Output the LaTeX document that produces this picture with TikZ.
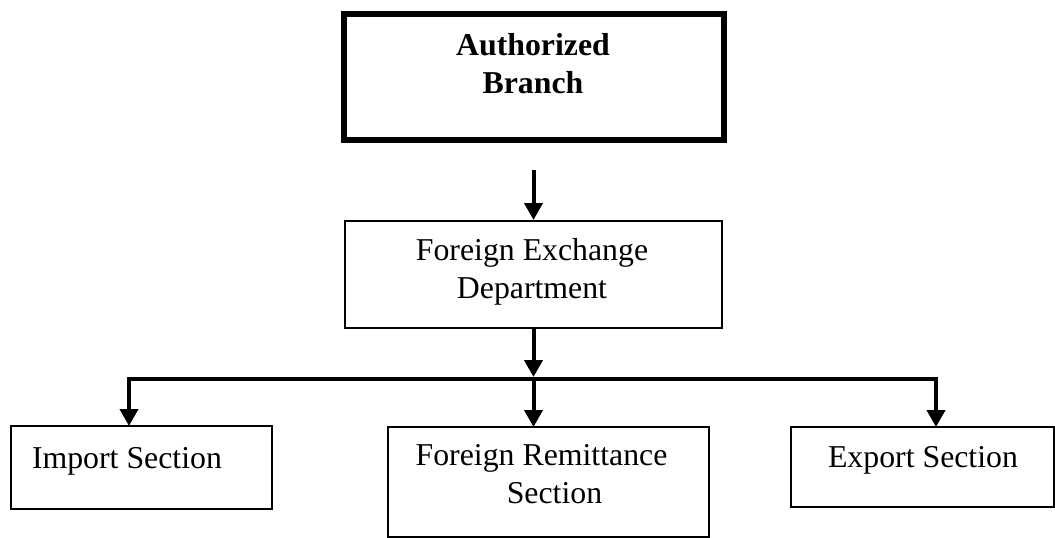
\documentclass[tikz,border=0pt]{standalone}
\usepackage{fontspec}
\setmainfont{Liberation Serif}
\usetikzlibrary{arrows.meta}
\begin{document}
\begin{tikzpicture}[x=1pt,y=-1pt,
  boxthin/.style={draw=black,line width=1.3pt,inner sep=0pt,outer sep=0pt,rectangle},
  boxthick/.style={draw=black,line width=6pt,inner sep=0pt,outer sep=0pt,rectangle},
  lbl/.style={inner sep=0pt,outer sep=0pt,anchor=base,font=\fontsize{31.8}{37.5}\selectfont},
  arr/.style={line width=4pt,-{Triangle[width=18pt,length=17pt]}}]
\useasboundingbox (0,0) rectangle (1055,538);
% boxes
\node[boxthick,minimum width=380pt,minimum height=126pt] (top) at (533.5,77) {};
\node[boxthin,minimum width=377pt,minimum height=107pt] (fx) at (533.5,274.5) {};
\node[boxthin,minimum width=261pt,minimum height=83pt] (imp) at (141.5,467.5) {};
\node[boxthin,minimum width=321pt,minimum height=110pt] (fr) at (548.5,482) {};
\node[boxthin,minimum width=263pt,minimum height=80pt] (exp) at (922.5,467) {};
% texts
\node[lbl,align=center,font=\fontsize{31.8}{37.5}\selectfont\bfseries] (ttop) at (533,93) {Authorized\\Branch};
\node[lbl,align=center] (tfx) at (532,298) {Foreign Exchange\\Department};
\node[lbl,anchor=base west] (timp) at (32,468) {Import Section};
\node[lbl,align=center] (tfr) at (541.5,503) {Foreign Remittance\\\hspace*{26pt}Section};
\node[lbl] (texp) at (923,467) {Export Section};
% connectors
\coordinate (a1) at (533.5,170);
\coordinate (bus) at (533.5,379);
\draw[arr,shorten >=1pt] (a1) -- (fx.north);
\draw[arr,shorten >=2pt] (fx.south) -- (bus);
\draw[arr] (bus) -| ([xshift=-12.5pt]imp.north);
\draw[arr] (bus) -| ([xshift=13.5pt]exp.north);
\draw[arr] (bus) -- (bus |- fr.north);
\end{tikzpicture}
\end{document}
